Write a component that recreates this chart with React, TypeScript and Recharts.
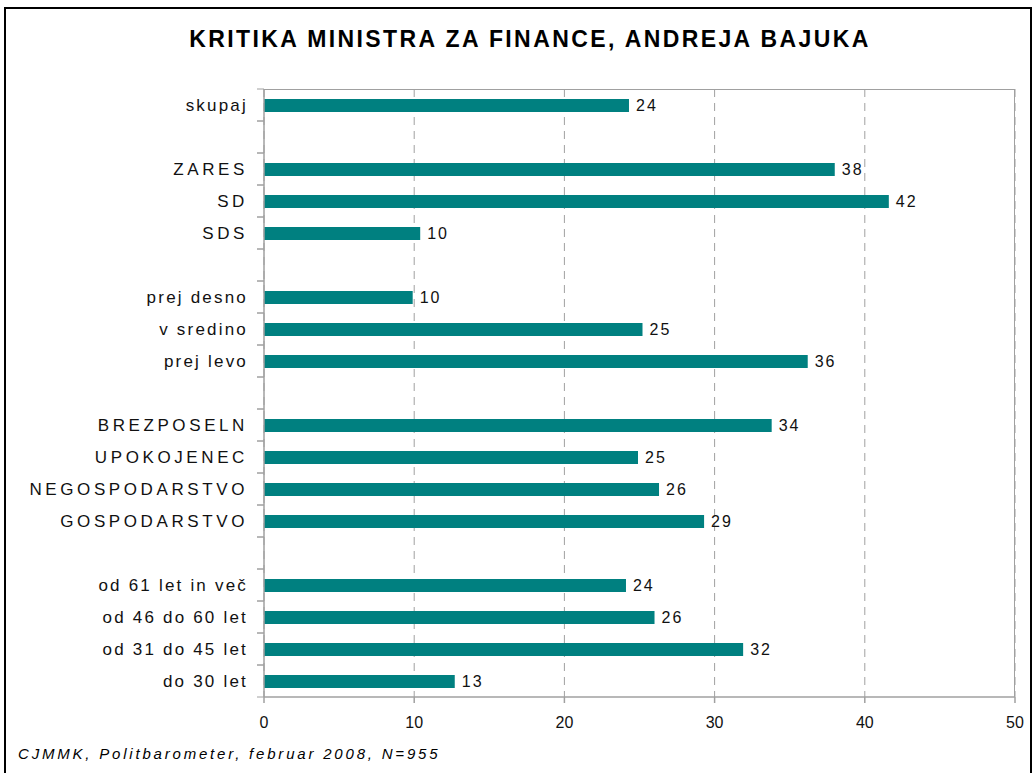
import { BarChart, Bar, XAxis, YAxis, CartesianGrid, LabelList } from "recharts";

const categories = [
  "skupaj",
  "",
  "ZARES",
  "SD",
  "SDS",
  "",
  "prej desno",
  "v sredino",
  "prej levo",
  "",
  "BREZPOSELN",
  "UPOKOJENEC",
  "NEGOSPODARSTVO",
  "GOSPODARSTVO",
  "",
  "od 61 let in več",
  "od 46 do 60 let",
  "od 31 do 45 let",
  "do 30 let",
];

const values: (number | null)[] = [
  24.3, null, 38.0, 41.6, 10.4, null, 9.9, 25.2, 36.2, null, 33.8, 24.9,
  26.3, 29.3, null, 24.1, 26.0, 31.9, 12.7,
];

const xTicks = [0, 10, 20, 30, 40, 50];

const data = categories.map((name, i) => ({ id: i, name, value: values[i] }));

const font = "'Liberation Sans', Arial, sans-serif";
const TICK_MARGIN = 16;

function CategoryTick(props: any) {
  const { x, y, payload } = props;
  const label = categories[payload.value];
  const axisX = x + TICK_MARGIN;
  const caps = label === label.toUpperCase();
  return (
    <g>
      <line x1={axisX - 7} x2={axisX} y1={y - 16} y2={y - 16} stroke="#a0a0a0" />
      <line x1={axisX - 7} x2={axisX} y1={y + 16} y2={y + 16} stroke="#a0a0a0" />
      <text
        x={x}
        y={y}
        dy={6}
        textAnchor="end"
        fontSize={17}
        fill="#111"
        style={{ letterSpacing: caps ? 3.6 : 2.2, fontFamily: font }}
      >
        {label}
      </text>
    </g>
  );
}

export default function App() {
  return (
    <div
      style={{
        position: "absolute",
        left: 0,
        top: 0,
        width: 1033,
        height: 773,
        background: "#fff",
        fontFamily: font,
        overflow: "hidden",
      }}
    >
      <div
        style={{
          position: "absolute",
          left: 4,
          top: 7,
          width: 1024,
          height: 800,
          border: "2px solid #000",
        }}
      />
      <div
        style={{
          position: "absolute",
          left: 0,
          width: 1060,
          top: 26,
          textAlign: "center",
          fontWeight: "bold",
          fontSize: 23,
          letterSpacing: 2.4,
          color: "#000",
        }}
      >
        KRITIKA MINISTRA ZA FINANCE, ANDREJA BAJUKA
      </div>
      <div style={{ position: "absolute", left: 0, top: 0 }}>
        <BarChart
          width={1033}
          height={773}
          data={data}
          layout="vertical"
          margin={{ top: 89, right: 18, bottom: 46, left: 0 }}
          barCategoryGap={0}
        >
          <CartesianGrid
            horizontal={false}
            vertical
            stroke="#a0a0a0"
            strokeDasharray="8 6"
          />
          <XAxis
            type="number"
            domain={[0, 50]}
            ticks={xTicks}
            tick={{ fontSize: 16, fill: "#111", fontFamily: font }}
            tickSize={6}
            tickMargin={14}
            stroke="#a0a0a0"
            strokeWidth={1.5}
            height={30}
          />
          <YAxis
            type="category"
            dataKey="id"
            width={264}
            tick={<CategoryTick />}
            tickLine={false}
            tickSize={0}
            tickMargin={TICK_MARGIN}
            stroke="#a0a0a0"
            strokeWidth={1.5}
            interval={0}
          />
          <Bar dataKey="value" fill="#008080" barSize={13} isAnimationActive={false}>
            <LabelList
              dataKey="value"
              position="right"
              offset={7}
              fill="#111"
              fontSize={16}
              style={{ letterSpacing: 2, fontFamily: font }}
              formatter={(v: any) => (v == null ? "" : Math.round(v))}
            />
          </Bar>
        </BarChart>
      </div>
      <div
        style={{
          position: "absolute",
          left: 264,
          top: 89,
          width: 751,
          height: 608,
          borderTop: "1.5px solid #a0a0a0",
          borderRight: "1.5px solid #a0a0a0",
          boxSizing: "border-box",
          pointerEvents: "none",
        }}
      />
      <div
        style={{
          position: "absolute",
          left: 18,
          top: 745,
          fontSize: 15,
          fontStyle: "italic",
          letterSpacing: 2.8,
          color: "#000",
        }}
      >
        CJMMK, Politbarometer, februar 2008, N=955
      </div>
    </div>
  );
}
